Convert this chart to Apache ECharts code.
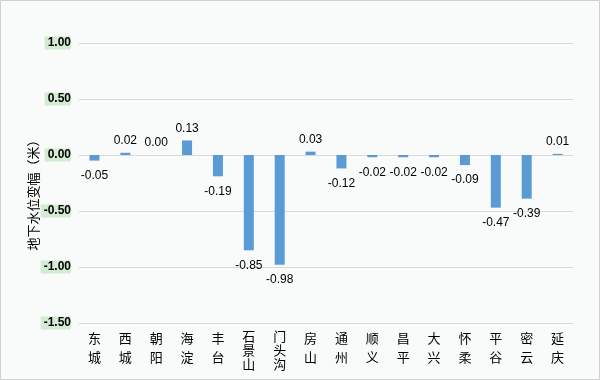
<!DOCTYPE html>
<html><head><meta charset="utf-8">
<script src="https://cdn.jsdelivr.net/npm/echarts@6/dist/echarts.min.js"></script>
<style>html,body{margin:0;padding:0;background:#f9fafa}#c{width:600px;height:380px}</style>
</head><body><div id="c"></div>
<script>
const categories = ['东城','西城','朝阳','海淀','丰台','石景山','门头沟','房山','通州','顺义','昌平','大兴','怀柔','平谷','密云','延庆'];
const values = [-0.05, 0.02, 0.00, 0.13, -0.19, -0.85, -0.98, 0.03, -0.12, -0.02, -0.02, -0.02, -0.09, -0.47, -0.39, 0.01];
const yTicks = {min: -1.5, max: 1, interval: 0.5};
const yTitle = '地下水位变幅（米）';

const chart = echarts.init(document.getElementById('c'));
const cjk = '"Noto Sans CJK SC", sans-serif';
chart.setOption({
  backgroundColor: '#f9fafa',
  animation: false,
  grid: {left: 79, right: 27, top: 43, bottom: 57},
  graphic: [
    {type: 'rect', shape: {x: 0.5, y: 0.5, width: 599, height: 379}, style: {fill: 'none', stroke: '#d0d0d0', lineWidth: 1}, silent: true},
    {type: 'text', x: 33, y: 192, rotation: Math.PI / 2, silent: true,
     style: {text: yTitle, fontSize: 13, fontFamily: cjk, fill: '#000', align: 'center', verticalAlign: 'middle'}}
  ],
  xAxis: {
    type: 'category', data: categories,
    axisLine: {show: false, onZero: false}, axisTick: {show: false},
    axisLabel: {
      interval: 0, margin: 6,
      formatter: function (v) {
        const chars = v.split('');
        const s = chars.length > 2 ? 'b' : 'a';
        return chars.map(c => '{' + s + '|' + c + '}').join('\n');
      },
      rich: {
        a: {fontSize: 13, lineHeight: 19, fontFamily: cjk, color: '#000'},
        b: {fontSize: 13, lineHeight: 14, fontFamily: cjk, color: '#000'}
      }
    }
  },
  yAxis: {
    type: 'value', min: yTicks.min, max: yTicks.max, interval: yTicks.interval,
    axisLine: {show: false}, axisTick: {show: false},
    splitLine: {lineStyle: {color: '#d9d9d9', width: 1}},
    axisLabel: {
      margin: 8, fontSize: 12, fontWeight: 'bold', fontFamily: '"Liberation Sans", Arial, sans-serif', color: '#000',
      backgroundColor: '#d3ebd2', padding: [1, 0, 0, 3],
      formatter: v => v.toFixed(2)
    }
  },
  series: [{
    type: 'bar', barWidth: 10,
    itemStyle: {color: '#5b9bd5'},
    data: values.map(v => ({value: v, label: v < 0 ? {position: 'bottom', distance: 9} : {position: 'top', distance: 6}})),
    label: {
      show: true, fontSize: 12, fontFamily: '"Liberation Sans", Arial, sans-serif', color: '#000',
      formatter: p => p.value.toFixed(2)
    }
  }]
});
</script></body></html>
